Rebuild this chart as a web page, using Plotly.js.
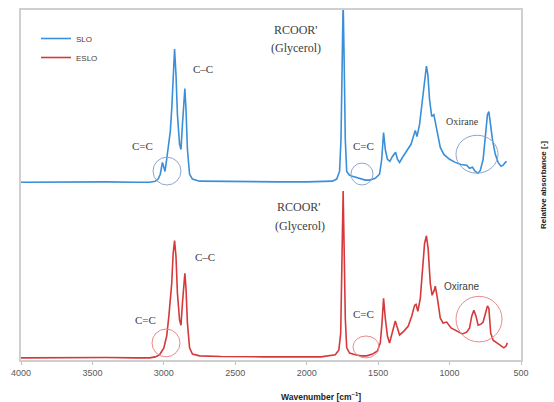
<!DOCTYPE html>
<html>
<head>
<meta charset="utf-8">
<script src="https://cdn.plot.ly/plotly-3.0.1.min.js"></script>
<style>html,body{margin:0;padding:0;background:#fff;}#chart{width:554px;height:402px;}</style>
</head>
<body>
<div id="chart"></div>
<script>
// Wavenumber (cm^-1) and relative absorbance
const wnSLO = [4000,3800,3600,3400,3200,3100,3060,3040,3025,3010,3000,2992,2980,2965,2955,2945,2935,2925,2915,2905,2890,2880,2870,2860,2853,2845,2835,2820,2800,2750,2600,2400,2200,2000,1900,1820,1790,1770,1760,1752,1745,1738,1730,1720,1700,1680,1650,1620,1590,1560,1520,1490,1475,1462,1450,1435,1418,1400,1378,1365,1350,1330,1300,1270,1240,1228,1210,1190,1175,1162,1152,1140,1125,1110,1098,1085,1065,1040,1000,960,920,880,860,840,820,800,785,765,750,735,725,715,700,680,660,640,625,610,600];
const absSLO = [0,0.001,0,0.001,0,0,0.003,0.009,0.023,0.057,0.043,0.031,0.066,0.123,0.146,0.209,0.323,0.383,0.309,0.194,0.109,0.094,0.166,0.251,0.269,0.209,0.094,0.023,0.009,0.003,0.002,0.002,0.001,0.001,0.002,0.003,0.009,0.031,0.123,0.294,0.52,0.351,0.123,0.031,0.02,0.017,0.014,0.009,0.006,0.006,0.011,0.023,0.066,0.143,0.094,0.066,0.06,0.074,0.086,0.066,0.057,0.071,0.089,0.109,0.149,0.131,0.166,0.237,0.294,0.334,0.309,0.237,0.189,0.194,0.169,0.137,0.1,0.08,0.066,0.057,0.051,0.049,0.04,0.043,0.031,0.026,0.034,0.066,0.123,0.194,0.203,0.166,0.123,0.08,0.057,0.046,0.049,0.057,0.06];
const wnESLO = [4000,3800,3600,3400,3200,3100,3060,3030,3000,2980,2965,2955,2945,2935,2925,2915,2905,2890,2880,2870,2860,2853,2845,2835,2820,2800,2750,2600,2300,1900,1800,1775,1762,1752,1745,1738,1730,1720,1700,1660,1620,1580,1540,1505,1485,1473,1462,1450,1435,1420,1400,1380,1365,1350,1320,1290,1265,1245,1235,1222,1205,1190,1175,1162,1150,1135,1122,1108,1100,1085,1065,1045,1020,990,950,910,880,860,845,830,815,800,780,765,750,735,725,712,695,670,640,620,605,595];
const absESLO = [0,0.001,0,0.001,0,0,0.003,0.009,0.029,0.063,0.12,0.166,0.214,0.3,0.337,0.291,0.186,0.109,0.094,0.157,0.229,0.243,0.2,0.1,0.029,0.011,0.006,0.004,0.003,0.003,0.009,0.023,0.071,0.257,0.48,0.314,0.114,0.029,0.014,0.009,0.006,0.006,0.011,0.02,0.043,0.1,0.171,0.114,0.063,0.043,0.071,0.106,0.086,0.066,0.077,0.091,0.12,0.151,0.154,0.134,0.171,0.257,0.329,0.351,0.314,0.214,0.18,0.194,0.206,0.171,0.114,0.1,0.103,0.086,0.077,0.069,0.074,0.086,0.12,0.137,0.12,0.094,0.097,0.103,0.126,0.149,0.143,0.071,0.051,0.043,0.034,0.029,0.034,0.043];
const SLO_OFFSET = 0.505; // vertical stacking offset of the SLO spectrum
const tickVals = [4000,3500,3000,2500,2000,1500,1000,500];
const seriesNames = ['SLO','ESLO'];

const blue = '#3a8fd8', red = '#d6393b';
const traces = [
  {x: wnSLO, y: absSLO.map(v => v + SLO_OFFSET), name: seriesNames[0], type: 'scatter', mode: 'lines', line: {color: blue, width: 1.6}},
  {x: wnESLO, y: absESLO, name: seriesNames[1], type: 'scatter', mode: 'lines', line: {color: red, width: 1.6}}
];

const serif = '"Liberation Serif", "DejaVu Serif", serif';
const sans = '"Liberation Sans", Arial, sans-serif';
function lab(text, x, y, size, fam) {
  return {text: text, x: x, y: y, xref: 'x', yref: 'y', showarrow: false,
          font: {family: fam || serif, size: size || 11, color: '#404040'}};
}
const annotations = [
  lab('C=C', 3153, 0.609), lab('C–C', 2726, 0.829),
  lab("RCOOR'", 2075, 0.943, 12), lab('(Glycerol)', 2075, 0.891, 12),
  lab('C=C', 1606, 0.609), lab('Oxirane', 913, 0.68, 10),
  lab('C=C', 3132, 0.109), lab('C–C', 2712, 0.291),
  lab("RCOOR'", 2054, 0.434, 12), lab('(Glycerol)', 2047, 0.38, 12),
  lab('C=C', 1606, 0.126), lab('Oxirane', 920, 0.206, 10, sans),
  {text: '<b>Wavenumber [cm<sup>−1</sup>]</b>', x: 0.6, y: -0.105, xref: 'paper', yref: 'paper',
   showarrow: false, yanchor: 'middle', font: {family: sans, size: 8.5, color: '#222'}}
];
function circ(x0, x1, y0, y1, c) {
  return {type: 'circle', xref: 'x', yref: 'y', x0: x0, x1: x1, y0: y0, y1: y1, line: {color: c, width: 1}};
}
const cb = '#8ea6cc', cr = '#ea8a8a';
const shapes = [
  circ(3076, 2880, 0.497, 0.577, cb), circ(1690, 1536, 0.497, 0.560, cb), circ(955, 661, 0.531, 0.640, cb),
  circ(3083, 2887, 0.003, 0.083, cr), circ(1676, 1494, 0.0, 0.063, cr), circ(955, 633, 0.046, 0.177, cr)
];

const layout = {
  width: 554, height: 402,
  margin: {l: 21, r: 33, t: 10, b: 42},
  paper_bgcolor: '#fff', plot_bgcolor: '#fff',
  showlegend: true,
  legend: {x: 0.03, y: 0.96, xanchor: 'left', yanchor: 'top', bgcolor: 'rgba(0,0,0,0)',
           font: {family: sans, size: 8, color: '#404040'}, itemwidth: 30, tracegroupgap: 0},
  xaxis: {range: [4000, 500], tickmode: 'array', tickvals: tickVals, ticks: 'outside', ticklen: 3,
          tickcolor: '#bfbfbf', showgrid: false, zeroline: false, showline: true, mirror: true,
          linecolor: '#cfcfcf', linewidth: 2, tickfont: {family: sans, size: 9, color: '#595959'}},
  yaxis: {range: [-0.006, 1.0], showticklabels: false, ticks: '', showgrid: false, zeroline: false,
          showline: true, mirror: true, linecolor: '#cfcfcf', linewidth: 2, side: 'right',
          title: {text: '<b>Relative absorbance [-]</b>', font: {family: sans, size: 8, color: '#222'}, standoff: 18}},
  annotations: annotations, shapes: shapes
};
Plotly.newPlot('chart', traces, layout, {displayModeBar: false, staticPlot: true});
</script>
</body>
</html>
